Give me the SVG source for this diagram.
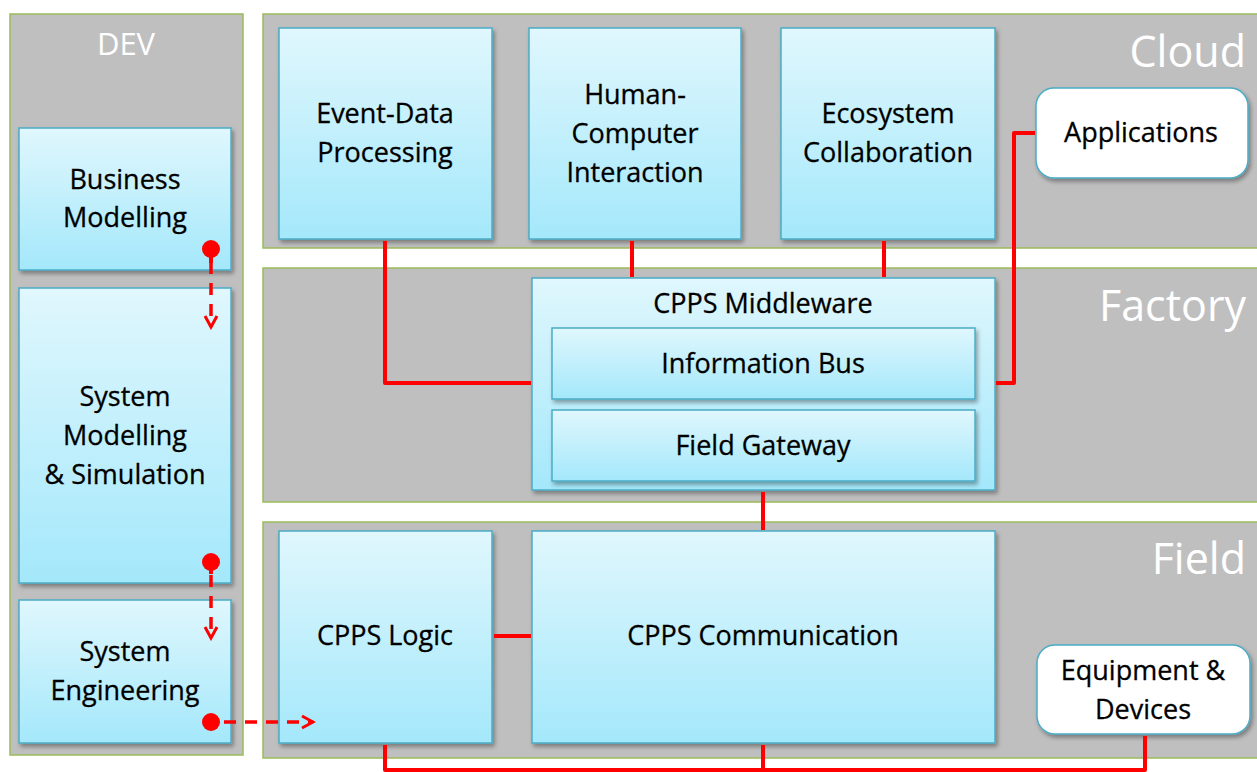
<svg xmlns="http://www.w3.org/2000/svg" width="1257" height="772" viewBox="0 0 1257 772">
<defs>
<linearGradient id="g" x1="0" y1="0" x2="0" y2="1"><stop offset="0" stop-color="#e0f7fd"/><stop offset="1" stop-color="#a4e8fb"/></linearGradient>
<filter id="sh" x="-10%" y="-10%" width="120%" height="130%"><feDropShadow dx="2" dy="3" stdDeviation="2" flood-color="#000" flood-opacity="0.35"/></filter>
<marker id="ah" viewBox="0 0 16 16" refX="13" refY="8" markerWidth="16" markerHeight="16" markerUnits="userSpaceOnUse" orient="auto"><path d="M2,2 L13,8 L2,14" fill="none" stroke="#ff0000" stroke-width="3"/></marker>
</defs>
<style>
.panel{fill:#bfbfbf;stroke:#9bbb59;stroke-width:1.5}
.box{fill:url(#g);stroke:#4bacc6;stroke-width:1.5;filter:url(#sh)}
.wbox{fill:#fff;stroke:#4bacc6;stroke-width:1.5;filter:url(#sh)}
.t{font-family:"Open Sans","Liberation Sans",sans-serif;font-size:27px;fill:#000;stroke:#000;stroke-width:0.3;text-anchor:middle}
.pl{font-family:"Open Sans","Liberation Sans",sans-serif;fill:#fff;text-anchor:end}
.c{fill:none;stroke:#ff0000;stroke-width:4;stroke-linejoin:round}
.d{fill:none;stroke:#ff0000;stroke-width:3.5;stroke-dasharray:12,9;marker-end:url(#ah)}
.dot{fill:#ff0000}
</style>
<rect width="1257" height="772" fill="#fff"/>
<g id="panels">
<rect class="panel" x="10" y="14" width="233" height="741"/>
<rect class="panel" x="263" y="14" width="1000" height="234"/>
<rect class="panel" x="263" y="268" width="1000" height="234"/>
<rect class="panel" x="263" y="522" width="1000" height="236"/>
<text class="pl" x="126" y="55" font-size="31" style="text-anchor:middle">DEV</text>
<text class="pl" x="1246" y="67" font-size="43">Cloud</text>
<text class="pl" x="1246" y="321" font-size="43">Factory</text>
<text class="pl" x="1246" y="574" font-size="43">Field</text>
</g>
<g id="business-modelling"><rect class="box" x="19" y="128" width="212" height="142"/><text class="t" x="125" y="189">Business</text><text class="t" x="125" y="227">Modelling</text></g>
<g id="system-modelling"><rect class="box" x="19" y="288" width="212" height="295"/><text class="t" x="125" y="406">System</text><text class="t" x="125" y="445">Modelling</text><text class="t" x="125" y="484">&amp; Simulation</text></g>
<g id="system-engineering"><rect class="box" x="19" y="600" width="212" height="143"/><text class="t" x="125" y="661">System</text><text class="t" x="125" y="700">Engineering</text></g>
<g id="event-data"><rect class="box" x="279" y="28" width="213" height="211"/><text class="t" x="385" y="123">Event-Data</text><text class="t" x="385" y="162">Processing</text></g>
<g id="hci"><rect class="box" x="529" y="28" width="212" height="211"/><text class="t" x="635" y="104">Human-</text><text class="t" x="635" y="143">Computer</text><text class="t" x="635" y="182">Interaction</text></g>
<g id="ecosystem"><rect class="box" x="781" y="28" width="214" height="211"/><text class="t" x="888" y="123">Ecosystem</text><text class="t" x="888" y="162">Collaboration</text></g>
<g id="applications"><rect class="wbox" x="1036" y="88" width="212" height="90" rx="18"/><text class="t" x="1141" y="142">Applications</text></g>
<g id="cpps-middleware"><rect class="box" x="532" y="278" width="463" height="212"/><text class="t" x="763" y="313">CPPS Middleware</text>
<g id="information-bus"><rect class="box" x="552" y="328" width="423" height="71"/><text class="t" x="763" y="373">Information Bus</text></g>
<g id="field-gateway"><rect class="box" x="552" y="410" width="423" height="71"/><text class="t" x="763" y="455">Field Gateway</text></g></g>
<g id="cpps-logic"><rect class="box" x="279" y="531" width="213" height="212"/><text class="t" x="385" y="645">CPPS Logic</text></g>
<g id="cpps-communication"><rect class="box" x="532" y="531" width="463" height="212"/><text class="t" x="763" y="645">CPPS Communication</text></g>
<g id="equipment"><rect class="wbox" x="1037" y="645" width="213" height="89" rx="18"/><text class="t" x="1143" y="680">Equipment &amp;</text><text class="t" x="1143" y="719">Devices</text></g>
<g id="connectors">
<path class="c" d="M385,241 V383 H531"/>
<path class="c" d="M632,241 V277"/>
<path class="c" d="M884,241 V277"/>
<path class="c" d="M996,383 H1014 V133 H1035"/>
<path class="c" d="M763,492 V530"/>
<path class="c" d="M494,636 H531"/>
<path class="c" d="M385,745 V770 H1145 V736"/>
<path class="c" d="M763,745 V770"/>
<path class="d" d="M211,262 V327"/>
<path class="d" d="M211,575 V638"/>
<path class="d" d="M224,722 H313"/>
<circle class="dot" cx="211" cy="249" r="9"/><path class="dot" d="M209,255 h4 v8 h-4z"/>
<circle class="dot" cx="211" cy="562" r="9"/><path class="dot" d="M209,568 h4 v6 h-4z"/>
<circle class="dot" cx="211" cy="722" r="9"/>
</g>
</svg>
